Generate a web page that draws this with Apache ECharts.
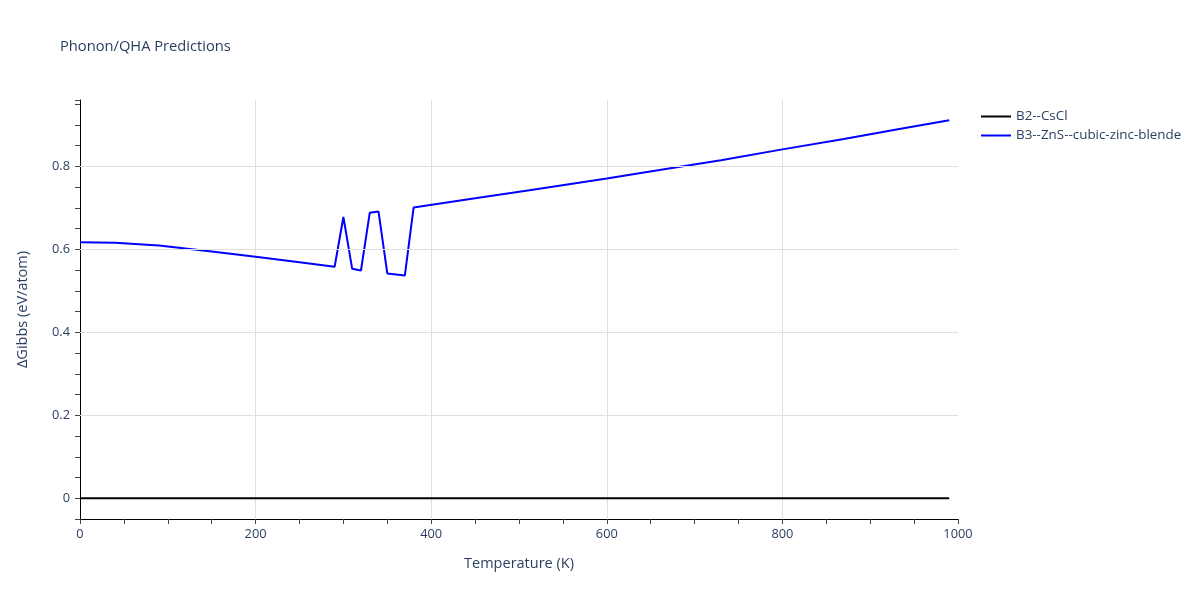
<!DOCTYPE html>
<html>
<head>
<meta charset="utf-8">
<script src="https://cdn.jsdelivr.net/npm/echarts@6/dist/echarts.min.js"></script>
<style>
  html, body { margin: 0; padding: 0; background: #fff; }
  #chart { width: 1200px; height: 600px; }
</style>
</head>
<body>
<div id="chart"></div>
<script>
// temperatures (K) sampled along the curves
var temps = [0, 40, 90, 150, 200, 250, 290, 300, 310, 320, 330, 340, 350, 370, 380,
  450, 510, 600, 660, 730, 800, 870, 930, 990];
// B2--CsCl reference phase (always zero)
var cscl = [0, 0, 0, 0, 0, 0, 0, 0, 0, 0, 0, 0, 0, 0, 0,
  0, 0, 0, 0, 0, 0, 0, 0, 0];
// B3--ZnS--cubic-zinc-blende
var zns = [0.617, 0.616, 0.609, 0.595, 0.582, 0.569, 0.558, 0.678, 0.553, 0.549, 0.688, 0.691, 0.542, 0.537, 0.701,
  0.723, 0.742, 0.771, 0.791, 0.815, 0.841, 0.866, 0.889, 0.911];
var seriesNames = ["B2--CsCl", "B3--ZnS--cubic-zinc-blende"];
var gridValues = [0.2, 0.4, 0.6, 0.8];

function pairs(xs, ys) {
  return xs.map(function (x, i) { return [x, ys[i]]; });
}

var textColor = "#2a3f5f";
var font = "'Open Sans', sans-serif";

var chart = echarts.init(document.getElementById("chart"));
var option = {
  backgroundColor: "#fff",
  animation: false,
  textStyle: { fontFamily: font },
  title: {
    text: "Phonon/QHA Predictions",
    left: 55,
    top: 34,
    textStyle: { color: textColor, fontSize: 14.7, fontWeight: "normal", fontFamily: font }
  },
  legend: {
    data: seriesNames.map(function (n) { return { name: n, icon: "rect" }; }),
    orient: "vertical",
    left: 976,
    top: 105,
    itemWidth: 30,
    itemHeight: 2,
    itemGap: 6,
    textStyle: { color: textColor, fontSize: 13.4, fontFamily: font }
  },
  grid: { left: 80, right: 242, top: 100, bottom: 81, containLabel: false },
  xAxis: {
    type: "value",
    min: 0,
    max: 1000,
    interval: 200,
    name: "Temperature (K)",
    nameLocation: "middle",
    nameGap: 37,
    nameTextStyle: { color: textColor, fontSize: 14.5, fontFamily: font },
    axisLine: { show: true, onZero: false, lineStyle: { color: "#000", width: 1 } },
    axisTick: { show: true, length: 5, lineStyle: { color: "#444" } },
    minorTick: { show: true, splitNumber: 4, length: 5, lineStyle: { color: "#444" } },
    axisLabel: {
      color: textColor, fontSize: 12.8, margin: 9, fontFamily: font,
      formatter: function (v) { return String(v); }
    },
    splitLine: { show: true, showMinLine: false, showMaxLine: false, lineStyle: { color: "#e0e0e0", width: 1 } }
  },
  yAxis: {
    type: "value",
    min: -0.05,
    max: 0.96,
    interval: 0.05,
    name: "\u0394Gibbs (eV/atom)",
    nameLocation: "middle",
    nameGap: 50,
    nameTextStyle: { color: textColor, fontSize: 14.5, fontFamily: font },
    axisLine: { show: true, onZero: false, lineStyle: { color: "#000", width: 1 } },
    axisTick: { show: true, length: 5, lineStyle: { color: "#444" } },
    axisLabel: {
      color: textColor, fontSize: 12.8, margin: 10, fontFamily: font,
      formatter: function (v) {
        var k = v / 0.2;
        if (Math.abs(k - Math.round(k)) < 1e-6) {
          var r = Math.round(k) * 0.2;
          return r === 0 ? "0" : r.toFixed(1);
        }
        return "";
      }
    },
    splitLine: { show: false }
  },
  series: [
    {
      name: "grid",
      type: "line",
      data: [],
      z: 0,
      silent: true,
      markLine: {
        silent: true,
        symbol: "none",
        label: { show: false },
        lineStyle: { color: "#e0e0e0", width: 1, type: "solid" },
        data: gridValues.map(function (v) { return { yAxis: v }; })
      }
    },
    {
      name: seriesNames[0],
      type: "line",
      data: pairs(temps, cscl),
      symbol: "none",
      z: 3,
      lineStyle: { color: "#000", width: 2 },
      itemStyle: { color: "#000" }
    },
    {
      name: seriesNames[1],
      type: "line",
      data: pairs(temps, zns),
      symbol: "none",
      z: 4,
      lineStyle: { color: "#0000ff", width: 2 },
      itemStyle: { color: "#0000ff" }
    }
  ]
};
chart.setOption(option);
</script>
</body>
</html>
